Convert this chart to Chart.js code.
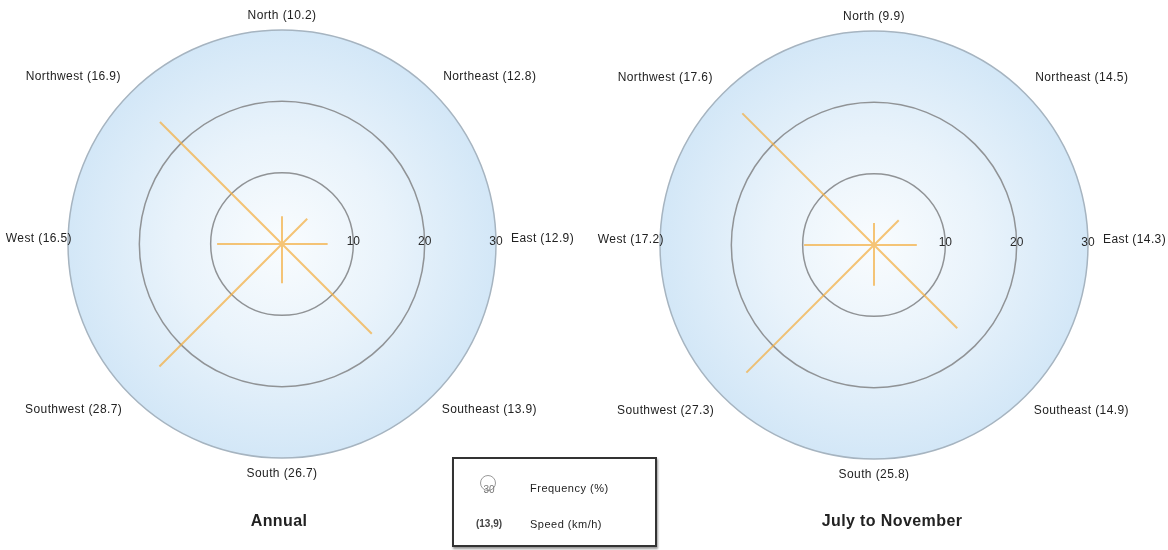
<!DOCTYPE html>
<html>
<head>
<meta charset="utf-8">
<title>Wind roses</title>
<script src="https://cdn.jsdelivr.net/npm/chart.js@4.4.1/dist/chart.umd.min.js"></script>
<style>
  html, body { margin: 0; padding: 0; background: #fff; }
  body { width: 1168px; height: 550px; position: relative; overflow: hidden; font-family: "Liberation Sans", Arial, sans-serif; color: #222; }
  .rose { position: absolute; top: 0; height: 550px; }
  #wrap-annual { left: 0; width: 590px; }
  #wrap-july { left: 584px; width: 584px; }
  .title { position: absolute; top: 512px; width: 240px; text-align: center; font-weight: bold; font-size: 16px; letter-spacing: 0.4px; color: #222; }
  #title-annual { left: 159px; }
  #title-july { left: 772px; }
  #legend { position: absolute; left: 452px; top: 457px; width: 201px; height: 86px; border: 2px solid #333; background: #fff; box-shadow: 1px 2px 2px #999; }
  #legend .row { position: absolute; left: 0; height: 20px; width: 100%; }
  #legend .txt { position: absolute; left: 76px; top: 3px; font-size: 11px; letter-spacing: 0.5px; color: #222; }
  #legend .ring { position: absolute; left: 26px; top: -4px; width: 14px; height: 14px; border: 1.5px solid #9a9a9a; border-radius: 50%; }
  #legend .num { position: absolute; left: 18px; width: 34px; text-align: center; top: 5px; font-size: 10px; color: #777; }
  #legend .spd { position: absolute; left: 16px; width: 38px; text-align: center; top: 3px; font-size: 10px; font-weight: bold; color: #444; }
</style>
</head>
<body>
<div class="rose" id="wrap-annual"><canvas id="rose-annual"></canvas></div>
<div class="rose" id="wrap-july"><canvas id="rose-july"></canvas></div>
<div class="title" id="title-annual">Annual</div>
<div class="title" id="title-july">July to November</div>
<div id="legend">
  <div class="row" style="top:20px"><span class="ring"></span><span class="num">30</span><span class="txt">Frequency (%)</span></div>
  <div class="row" style="top:56px"><span class="spd">(13,9)</span><span class="txt">Speed (km/h)</span></div>
</div>
<script>
// wind directions, clockwise from north
const directions = ["North", "Northeast", "East", "Southeast", "South", "Southwest", "West", "Northwest"];

// frequency (%) = length of the orange spoke, speed (km/h) = number in the label
const annualFrequency = [3.9, 5.0, 6.4, 17.8, 5.5, 24.3, 9.1, 24.2];
const annualSpeed = [10.2, 12.8, 12.9, 13.9, 26.7, 28.7, 16.5, 16.9];
const julyNovFrequency = [3.1, 4.9, 6.0, 16.5, 5.7, 25.3, 9.8, 26.1];
const julyNovSpeed = [9.9, 14.5, 14.3, 14.9, 25.8, 27.3, 17.2, 17.6];

const radialTicks = [10, 20, 30];

// the radar line goes out to each value and back to the centre, so every direction is a spoke
const spokeLabels = directions.flatMap(d => [d, ""]);
const spokes = freq => freq.flatMap(v => [v, 0]);

// distance of each direction label outside the outer ring
const labelPad = [8, 14, 15, 12, 10, 12, -4, 14];
const labelAlign = [
    ["center", "bottom"], ["left", "bottom"], ["left", "middle"], ["left", "top"],
    ["center", "top"], ["right", "top"], ["right", "middle"], ["right", "bottom"]
];

const roseDecor = {
    id: "roseDecor",
    beforeDraw(chart) {
        const r = chart.scales.r;
        const ctx = chart.ctx;
        const grad = ctx.createRadialGradient(r.xCenter, r.yCenter, 0, r.xCenter, r.yCenter, r.drawingArea);
        grad.addColorStop(0, "#f9fcfe");
        grad.addColorStop(0.5, "#e9f3fb");
        grad.addColorStop(1, "#d3e7f7");
        ctx.save();
        ctx.beginPath();
        ctx.arc(r.xCenter, r.yCenter, r.drawingArea, 0, Math.PI * 2);
        ctx.fillStyle = grad;
        ctx.fill();
        ctx.restore();
    },
    afterDraw(chart, args, opts) {
        const r = chart.scales.r;
        const ctx = chart.ctx;
        ctx.save();

        // direction names with speed
        ctx.fillStyle = "#222";
        ctx.font = '12px "Liberation Sans", Arial, sans-serif';
        ctx.letterSpacing = "0.4px";
        directions.forEach((name, i) => {
            const p = r.getPointPosition(i * 2, r.drawingArea + labelPad[i]);
            ctx.textAlign = labelAlign[i][0];
            ctx.textBaseline = labelAlign[i][1];
            const dy = labelAlign[i][1] === "middle" ? -5 : 0;
            ctx.fillText(name + " (" + opts.speed[i].toFixed(1) + ")", p.x, p.y + dy);
        });

        // ring values along the east axis
        ctx.font = '12px "Liberation Sans", Arial, sans-serif';
        ctx.letterSpacing = "0px";
        ctx.fillStyle = "#2a2a2a";
        ctx.textAlign = "center";
        ctx.textBaseline = "middle";
        radialTicks.forEach(v => {
            ctx.fillText(String(v), r.xCenter + r.getDistanceFromCenterForValue(v), r.yCenter - 2);
        });
        ctx.restore();
    }
};

const makeRose = (canvasId, freq, speed, padding) => new Chart(document.getElementById(canvasId), {
    type: "radar",
    data: {
        labels: spokeLabels,
        datasets: [{
            data: spokes(freq),
            borderColor: "rgba(244, 172, 60, 0.7)",
            borderWidth: 2,
            fill: false,
            pointRadius: 0,
            tension: 0
        }]
    },
    options: {
        responsive: true,
        maintainAspectRatio: false,
        animation: false,
        layout: { padding: padding },
        plugins: {
            legend: { display: false },
            tooltip: { enabled: false },
            roseDecor: { speed: speed }
        },
        scales: {
            r: {
                min: 0,
                max: 30,
                ticks: { display: false, stepSize: 10 },
                grid: {
                    circular: true,
                    lineWidth: 1.5,
                    color: ctx => ctx.tick && ctx.tick.value === 30 ? "#a6b4c0" : "#909396"
                },
                angleLines: { display: false },
                pointLabels: { display: false }
            }
        }
    },
    plugins: [roseDecor]
});

makeRose("rose-annual", annualFrequency, annualSpeed, { left: 68, top: 30, right: 94, bottom: 92 });
makeRose("rose-july", julyNovFrequency, julyNovSpeed, { left: 76, top: 31, right: 80, bottom: 91 });
</script>
</body>
</html>
